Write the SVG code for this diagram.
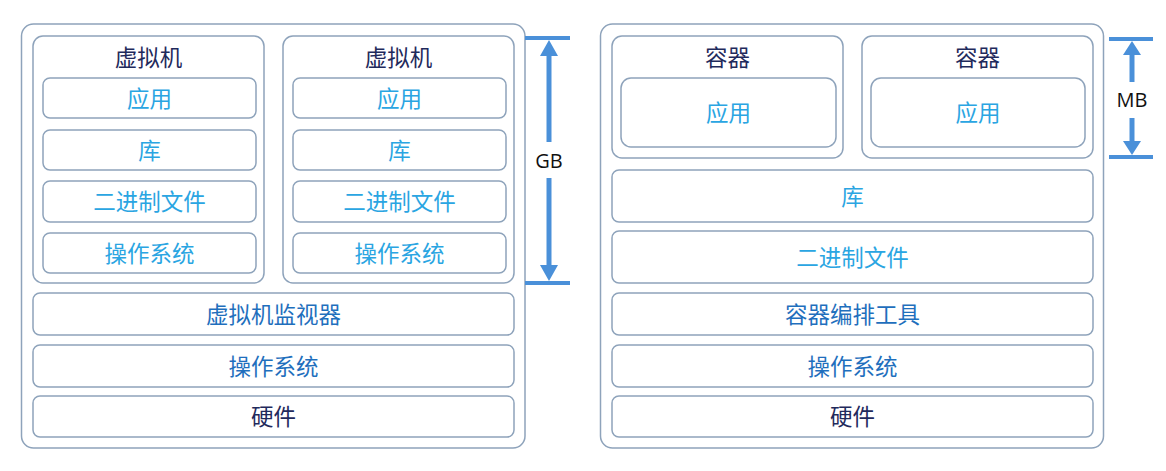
<svg xmlns="http://www.w3.org/2000/svg" width="1166" height="471" viewBox="0 0 1166 471">
<style>
.outer{fill:#fff;stroke:#8ea3bb;stroke-width:1.5}
.box{fill:#fff;stroke:#8ea3bb;stroke-width:1.5}
text{font-family:"Noto Sans CJK SC","Liberation Sans",sans-serif;font-size:22.5px;text-anchor:middle;dominant-baseline:central}
.t-dark{fill:#1f2a5c}
.t-light{fill:#2aa5e2}
.t-mid{fill:#1f6fbd}
.t-lbl{fill:#111;font-family:"Open Sans","Liberation Sans",sans-serif;font-size:20px}
.dim{stroke:#4a90d9;fill:none}
.head{fill:#4a90d9}
</style>
<rect width="1166" height="471" fill="#fff"/>
<g id="vm-stack">
<rect class="outer" x="21.5" y="24" width="503.5" height="424" rx="12"/>
</g>
<g id="vm1">
<rect class="box" x="33" y="36" width="231" height="247" rx="10"/>
<text class="t-dark" x="148.5" y="56">虚拟机</text>
<rect class="box" x="43" y="78" width="213" height="40" rx="7"/><text class="t-light" x="149.5" y="96.5">应用</text>
<rect class="box" x="43" y="130" width="213" height="40" rx="7"/><text class="t-light" x="149.5" y="148.5">库</text>
<rect class="box" x="43" y="181" width="213" height="41" rx="7"/><text class="t-light" x="149.5" y="200">二进制文件</text>
<rect class="box" x="43" y="233" width="213" height="40" rx="7"/><text class="t-light" x="149.5" y="251.5">操作系统</text>
</g>
<g id="vm2">
<rect class="box" x="283" y="36" width="231" height="247" rx="10"/>
<text class="t-dark" x="398.5" y="56">虚拟机</text>
<rect class="box" x="293" y="78" width="213" height="40" rx="7"/><text class="t-light" x="399.5" y="96.5">应用</text>
<rect class="box" x="293" y="130" width="213" height="40" rx="7"/><text class="t-light" x="399.5" y="148.5">库</text>
<rect class="box" x="293" y="181" width="213" height="41" rx="7"/><text class="t-light" x="399.5" y="200">二进制文件</text>
<rect class="box" x="293" y="233" width="213" height="40" rx="7"/><text class="t-light" x="399.5" y="251.5">操作系统</text>
</g>
<g id="hypervisor">
<rect class="box" x="33" y="293" width="481" height="42" rx="7"/><text class="t-mid" x="273.5" y="312.5">虚拟机监视器</text>
</g>
<g id="vm-os">
<rect class="box" x="33" y="345" width="481" height="42" rx="7"/><text class="t-mid" x="273.5" y="364.5">操作系统</text>
</g>
<g id="vm-hw">
<rect class="box" x="33" y="396" width="481" height="41" rx="7"/><text class="t-dark" x="273.5" y="415">硬件</text>
</g>

<g id="ct-stack">
<rect class="outer" x="600.5" y="24" width="503" height="424" rx="12"/>
</g>
<g id="ct1">
<rect class="box" x="612" y="36" width="231" height="122" rx="10"/>
<text class="t-dark" x="727.5" y="56">容器</text>
<rect class="box" x="621" y="78" width="215" height="69" rx="10"/><text class="t-light" x="728.5" y="111">应用</text>
</g>
<g id="ct2">
<rect class="box" x="862" y="36" width="231" height="122" rx="10"/>
<text class="t-dark" x="977.5" y="56">容器</text>
<rect class="box" x="871" y="78" width="214" height="69" rx="10"/><text class="t-light" x="978" y="111">应用</text>
</g>
<g id="ct-lib">
<rect class="box" x="612" y="170" width="481" height="52" rx="7"/><text class="t-light" x="852.5" y="194.5">库</text>
</g>
<g id="ct-bin">
<rect class="box" x="612" y="231" width="481" height="52" rx="7"/><text class="t-light" x="852.5" y="255.5">二进制文件</text>
</g>
<g id="ct-orch">
<rect class="box" x="612" y="293" width="481" height="42" rx="7"/><text class="t-mid" x="852.5" y="312.5">容器编排工具</text>
</g>
<g id="ct-os">
<rect class="box" x="612" y="345" width="481" height="42" rx="7"/><text class="t-mid" x="852.5" y="364.5">操作系统</text>
</g>
<g id="ct-hw">
<rect class="box" x="612" y="396" width="481" height="41" rx="7"/><text class="t-dark" x="852.5" y="415">硬件</text>
</g>

<g id="connectors">
<line class="dim" x1="525" y1="38" x2="570" y2="38" stroke-width="4"/>
<line class="dim" x1="525" y1="283" x2="570" y2="283" stroke-width="4"/>
<line class="dim" x1="549" y1="54" x2="549" y2="142" stroke-width="5"/>
<line class="dim" x1="549" y1="178" x2="549" y2="268" stroke-width="5"/>
<polygon class="head" points="549,40 540,56 558,56"/>
<polygon class="head" points="549,281 540,265 558,265"/>
<text class="t-lbl" x="549" y="160">GB</text>

<line class="dim" x1="1109" y1="39" x2="1153" y2="39" stroke-width="4"/>
<line class="dim" x1="1109" y1="157" x2="1153" y2="157" stroke-width="4"/>
<line class="dim" x1="1132" y1="52" x2="1132" y2="82" stroke-width="5"/>
<line class="dim" x1="1132" y1="118" x2="1132" y2="144" stroke-width="5"/>
<polygon class="head" points="1132,41 1123,55 1141,55"/>
<polygon class="head" points="1132,155 1123,141 1141,141"/>
<text class="t-lbl" x="1132" y="99">MB</text>
</g>
</svg>
